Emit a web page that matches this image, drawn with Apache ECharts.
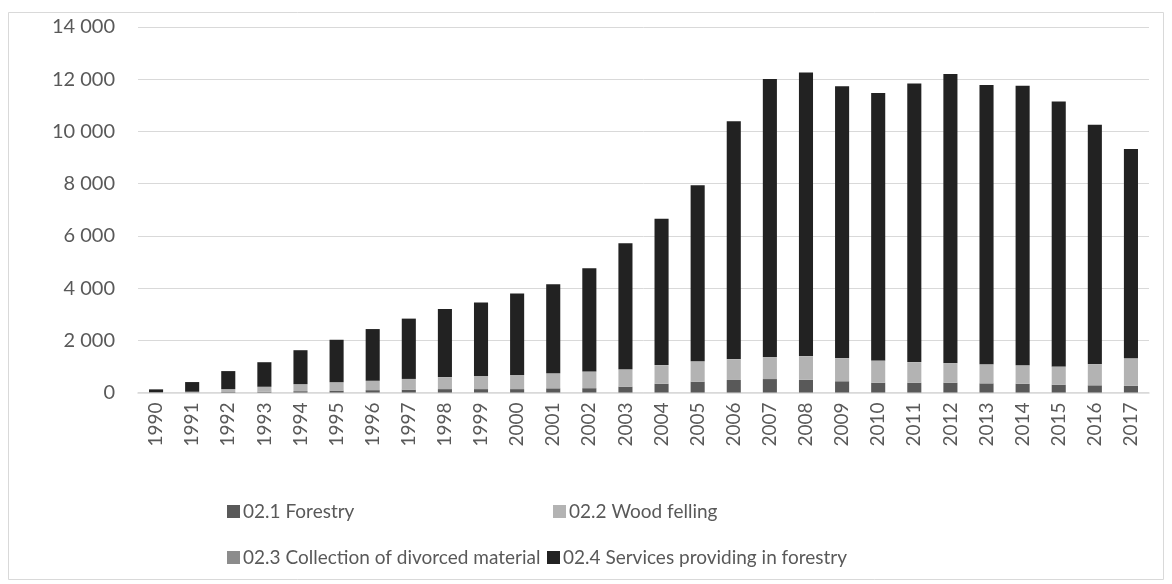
<!DOCTYPE html>
<html>
<head>
<meta charset="utf-8">
<script src="https://cdn.jsdelivr.net/npm/echarts@6/dist/echarts.min.js"></script>
<style>
  html, body { margin: 0; padding: 0; background: #ffffff; }
  #chart { width: 1172px; height: 584px; }
</style>
</head>
<body>
<div id="chart"></div>
<script>
// Years on the category axis
const years = ['1990','1991','1992','1993','1994','1995','1996','1997','1998','1999',
  '2000','2001','2002','2003','2004','2005','2006','2007','2008','2009',
  '2010','2011','2012','2013','2014','2015','2016','2017'];

// Stacked series values, bottom to top
const forestry = [5, 10, 20, 30, 50, 75, 90, 110, 130, 130,
  130, 160, 165, 225, 335, 415, 480, 515, 490, 430,
  375, 375, 375, 350, 335, 300, 275, 260];
const woodFelling = [5, 20, 110, 190, 270, 320, 360, 410, 460, 505,
  545, 580, 640, 665, 710, 770, 790, 835, 895, 880,
  845, 780, 745, 720, 695, 690, 805, 1040];
const collection = [0, 0, 0, 0, 0, 0, 0, 0, 0, 0,
  0, 0, 0, 5, 5, 10, 10, 10, 10, 10,
  10, 10, 10, 10, 10, 10, 10, 10];
const services = [110, 370, 690, 940, 1300, 1625, 1980, 2310, 2610, 2815,
  3115, 3410, 3955, 4825, 5610, 6745, 9110, 10650, 10865, 10410,
  10240, 10675, 11070, 10700, 10710, 10150, 9170, 8020];

const seriesNames = ['02.1 Forestry', '02.2 Wood felling',
  '02.3 Collection of divorced material', '02.4 Services providing in forestry'];
const seriesColors = ['#595959', '#b3b3b3', '#8c8c8c', '#222222'];
const seriesData = [forestry, woodFelling, collection, services];

const FONT = 'Lato, "Open Sans", sans-serif';
const TEXT = '#595959';

// Two-column legend, one component per entry
const legendPos = [
  { left: 227, top: 502 },
  { left: 553, top: 502 },
  { left: 227, top: 548 },
  { left: 547, top: 548 }
];

const chart = echarts.init(document.getElementById('chart'), null, { renderer: 'canvas' });

chart.setOption({
  backgroundColor: '#ffffff',
  animation: false,
  graphic: [{
    type: 'rect',
    shape: { x: 8.5, y: 12.5, width: 1155, height: 567 },
    style: { fill: 'none', stroke: '#d9d9d9', lineWidth: 1 },
    silent: true
  }],
  legend: seriesNames.map((name, i) => ({
    data: [name],
    left: legendPos[i].left,
    top: legendPos[i].top,
    itemWidth: 13,
    itemHeight: 13,
    itemGap: 0,
    padding: 0,
    icon: 'rect',
    textStyle: { color: TEXT, fontSize: 19, lineHeight: 19, fontFamily: FONT, padding: [0, 0, 0, -2] },
    selectedMode: false
  })),
  grid: { left: 138, right: 23, top: 27, bottom: 191.5, containLabel: false },
  xAxis: {
    type: 'category',
    data: years,
    axisLine: { show: true, lineStyle: { color: '#d9d9d9', width: 1.5 } },
    axisTick: { show: false },
    axisLabel: {
      rotate: 90,
      margin: 10,
      color: TEXT,
      fontSize: 19,
      fontFamily: FONT
    }
  },
  yAxis: {
    type: 'value',
    min: 0,
    max: 14000,
    interval: 2000,
    axisLine: { show: false },
    axisTick: { show: false },
    splitLine: { lineStyle: { color: '#d9d9d9', width: 1 } },
    axisLabel: {
      margin: 23,
      color: TEXT,
      fontSize: 20,
      fontFamily: FONT,
      formatter: v => String(v).replace(/\B(?=(\d{3})+(?!\d))/g, ' ')
    }
  },
  series: seriesNames.map((name, i) => ({
    name: name,
    type: 'bar',
    stack: 'total',
    barCategoryGap: '61%',
    itemStyle: { color: seriesColors[i] },
    data: seriesData[i]
  }))
});
</script>
</body>
</html>
